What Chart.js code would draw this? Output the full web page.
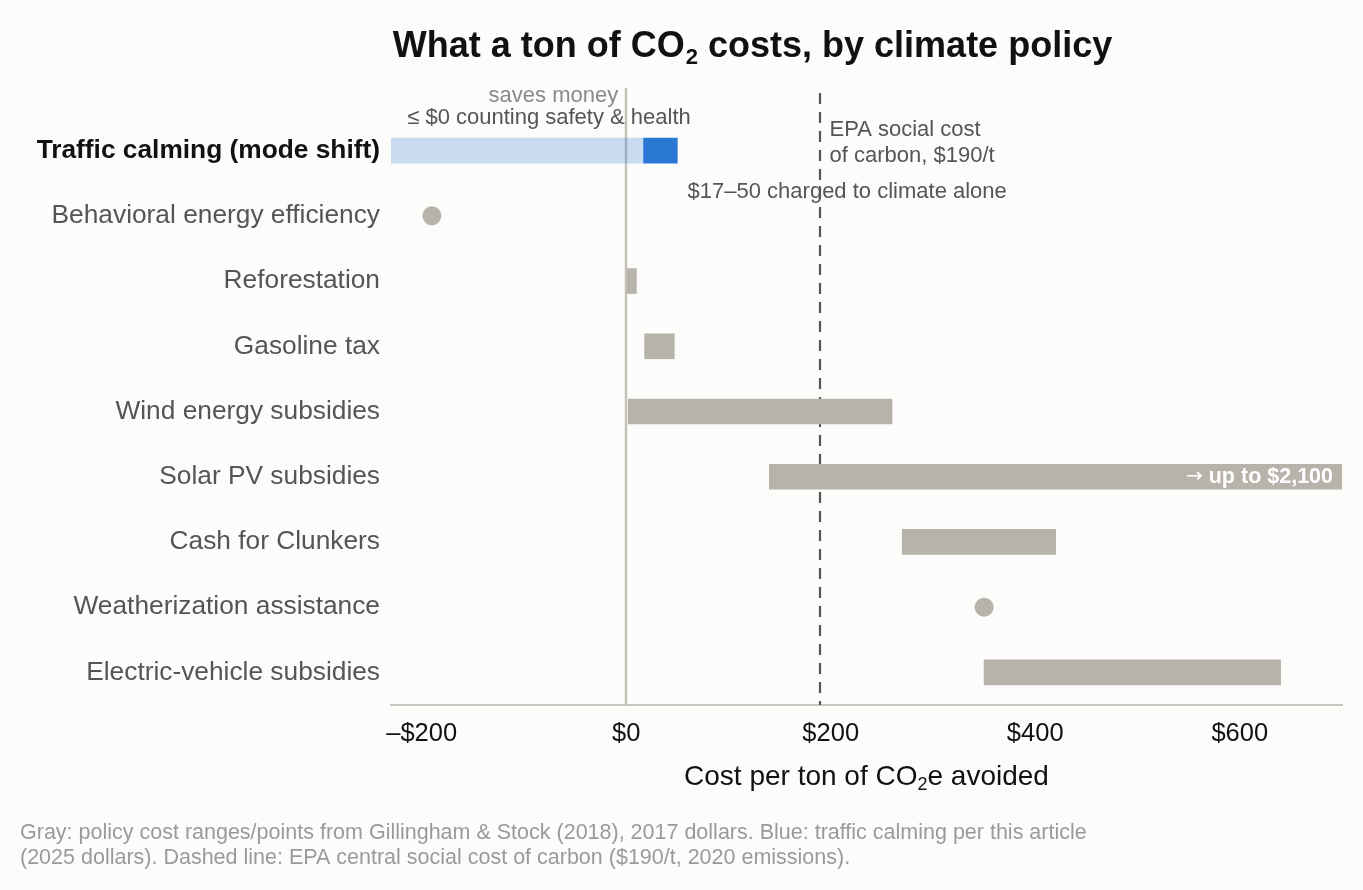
<!DOCTYPE html>
<html>
<head>
<meta charset="utf-8">
<script src="https://cdn.jsdelivr.net/npm/chart.js@4.4.1/dist/chart.umd.min.js"></script>
<style>
  html, body { margin: 0; padding: 0; background: #fcfcfa; }
  #wrap { width: 1363px; height: 890px; position: relative; }
</style>
</head>
<body>
<div id="wrap"><canvas id="c" width="1363" height="890"></canvas></div>
<script>
// ---- data ----
const categories = [
  'Traffic calming (mode shift)',
  'Behavioral energy efficiency',
  'Reforestation',
  'Gasoline tax',
  'Wind energy subsidies',
  'Solar PV subsidies',
  'Cash for Clunkers',
  'Weatherization assistance',
  'Electric-vehicle subsidies'
];
const rangeLow  = [null, null, 1, 18, 2, 140, 270, null, 350];
const rangeHigh = [null, null, 10, 47, 260, 2100, 420, null, 640];
const pointValues = [null, -190, null, null, null, null, null, 350, null];
const trafficSafetyRange = [-400, 17];   // ≤ $0 counting safety & health (extends off-scale)
const trafficClimateRange = [17, 50];    // $17–50 charged to climate alone
const socialCostOfCarbon = 190;
const xMin = -230, xMax = 700;
const tickValues = [-200, 0, 200, 400, 600];
const solarMax = 2100;

const FONT = '"Liberation Sans", Arial, Helvetica, sans-serif';
const GRAY = '#b7b3ab';

const grayData = rangeLow.map((l, i) => l == null ? null : [l, rangeHigh[i]]);
const lightData = categories.map((c, i) => i === 0 ? trafficSafetyRange : null);
const darkData = categories.map((c, i) => i === 0 ? trafficClimateRange : null);
const pointData = pointValues.map((v, i) => v == null ? null : { x: v, y: categories[i] }).filter(Boolean);

function fmt(v) { return v < 0 ? '\u2013$' + Math.abs(v) : '$' + v; }

const annot = {
  id: 'annot',
  beforeDatasetsDraw(chart) {
    const ctx = chart.ctx, x = chart.scales.x, a = chart.chartArea;
    ctx.save();
    ctx.strokeStyle = '#c5c3b9';
    ctx.lineWidth = 2.5;
    ctx.beginPath();
    const x0 = Math.round(x.getPixelForValue(0));
    ctx.moveTo(x0, 88); ctx.lineTo(x0, a.bottom);
    ctx.stroke();
    ctx.strokeStyle = '#555555';
    ctx.lineWidth = 2.2;
    ctx.setLineDash([11, 8]);
    const xs = Math.round(x.getPixelForValue(socialCostOfCarbon));
    ctx.beginPath();
    ctx.moveTo(xs, 93); ctx.lineTo(xs, a.bottom);
    ctx.stroke();
    ctx.restore();
  },
  afterDraw(chart) {
    const ctx = chart.ctx, x = chart.scales.x, y = chart.scales.y, a = chart.chartArea;
    ctx.save();
    ctx.textBaseline = 'alphabetic';
    // title
    const tFont = 'bold 36px ' + FONT, sFont = 'bold 22px ' + FONT;
    const p1 = 'What a ton of CO', p2 = '2', p3 = ' costs, by climate policy';
    ctx.font = tFont; const w1 = ctx.measureText(p1).width, w3 = ctx.measureText(p3).width;
    ctx.font = sFont; const w2 = ctx.measureText(p2).width;
    const tx = 752 - (w1 + w2 + w3) / 2;
    ctx.fillStyle = '#111';
    ctx.textAlign = 'left';
    ctx.font = tFont; ctx.fillText(p1, tx, 57);
    ctx.font = sFont; ctx.fillText(p2, tx + w1 + 1, 64);
    ctx.font = tFont; ctx.fillText(p3, tx + w1 + w2 + 1, 57);

    const x0 = x.getPixelForValue(0);
    ctx.font = '22px ' + FONT;
    ctx.fillStyle = '#8a8a8a';
    ctx.textAlign = 'right';
    ctx.fillText('saves money', x0 - 8, 102);
    ctx.fillStyle = '#555';
    ctx.textAlign = 'center';
    ctx.fillText('\u2264 $0 counting safety & health', 549, 124);
    const xs = x.getPixelForValue(socialCostOfCarbon);
    ctx.textAlign = 'left';
    ctx.fillText('EPA social cost', xs + 9, 136);
    ctx.fillText('of carbon, $190/t', xs + 9, 162);
    ctx.fillText('$17\u201350 charged to climate alone', x.getPixelForValue(trafficClimateRange[0]) + 44, 198);

    // solar label
    const sy = y.getPixelForValue(5);
    const lbl = 'up to $' + solarMax.toLocaleString('en-US');
    ctx.font = 'bold 21.5px ' + FONT;
    ctx.fillStyle = '#ffffff';
    ctx.textAlign = 'right';
    ctx.textBaseline = 'middle';
    const lw = ctx.measureText(lbl).width;
    ctx.fillText(lbl, a.right - 9, sy);
    ctx.font = '20px "DejaVu Sans", ' + FONT;
    ctx.fillText('\u2192', a.right - 9 - lw - 6, sy);

    // x title
    ctx.textBaseline = 'alphabetic';
    const xf = '28px ' + FONT, xsf = '18px ' + FONT;
    const q1 = 'Cost per ton of CO', q2 = '2', q3 = 'e avoided';
    ctx.font = xf; const v1 = ctx.measureText(q1).width, v3 = ctx.measureText(q3).width;
    ctx.font = xsf; const v2 = ctx.measureText(q2).width;
    const qx = (a.left + a.right) / 2 - (v1 + v2 + v3) / 2;
    ctx.fillStyle = '#111';
    ctx.textAlign = 'left';
    ctx.font = xf; ctx.fillText(q1, qx, 785);
    ctx.font = xsf; ctx.fillText(q2, qx + v1, 790);
    ctx.font = xf; ctx.fillText(q3, qx + v1 + v2, 785);

    // footnote
    ctx.font = '21.5px ' + FONT;
    ctx.fillStyle = '#9a9a9a';
    ctx.fillText('Gray: policy cost ranges/points from Gillingham & Stock (2018), 2017 dollars. Blue: traffic calming per this article', 20, 839);
    ctx.fillText('(2025 dollars). Dashed line: EPA central social cost of carbon ($190/t, 2020 emissions).', 20, 864);
    ctx.restore();
  }
};

new Chart(document.getElementById('c'), {
  type: 'bar',
  data: {
    labels: categories,
    datasets: [
      { label: 'Policy ranges', data: grayData, backgroundColor: GRAY, barThickness: 25, grouped: false, order: 3 },
      { label: 'Traffic calming (safety & health)', data: lightData, backgroundColor: 'rgba(42,120,212,0.25)', barThickness: 25, grouped: false, order: 2 },
      { label: 'Traffic calming (climate)', data: darkData, backgroundColor: '#2a78d4', barThickness: 25, grouped: false, order: 1 },
      { type: 'scatter', label: 'Point estimates', data: pointData, backgroundColor: GRAY, borderWidth: 0, pointRadius: 9.5, pointHoverRadius: 9.5, order: 0 }
    ]
  },
  options: {
    indexAxis: 'y',
    responsive: false,
    animation: false,
    devicePixelRatio: 1,
    layout: { padding: { left: 0, right: 21, top: 118, bottom: 96 } },
    plugins: { legend: { display: false }, tooltip: { enabled: false }, title: { display: false } },
    scales: {
      x: {
        type: 'linear',
        min: xMin, max: xMax,
        afterBuildTicks(s) { s.ticks = tickValues.map(v => ({ value: v })); },
        afterFit(s) { s.height = 89; },
        grid: { display: false, drawTicks: false },
        border: { display: true, color: '#c8c6bc', width: 2 },
        ticks: { color: '#111', font: { family: FONT, size: 25.5 }, padding: 14, callback: v => fmt(v), maxRotation: 0 }
      },
      y: {
        type: 'category',
        afterFit(s) { s.width = 391; },
        grid: { display: false, drawTicks: false },
        border: { display: false },
        ticks: {
          padding: 11,
          color: ctx => ctx.index === 0 ? '#111' : '#555',
          font: ctx => ({ family: FONT, size: 26.3, weight: ctx.index === 0 ? 'bold' : 'normal' })
        }
      }
    }
  },
  plugins: [annot]
});
</script>
</body>
</html>
